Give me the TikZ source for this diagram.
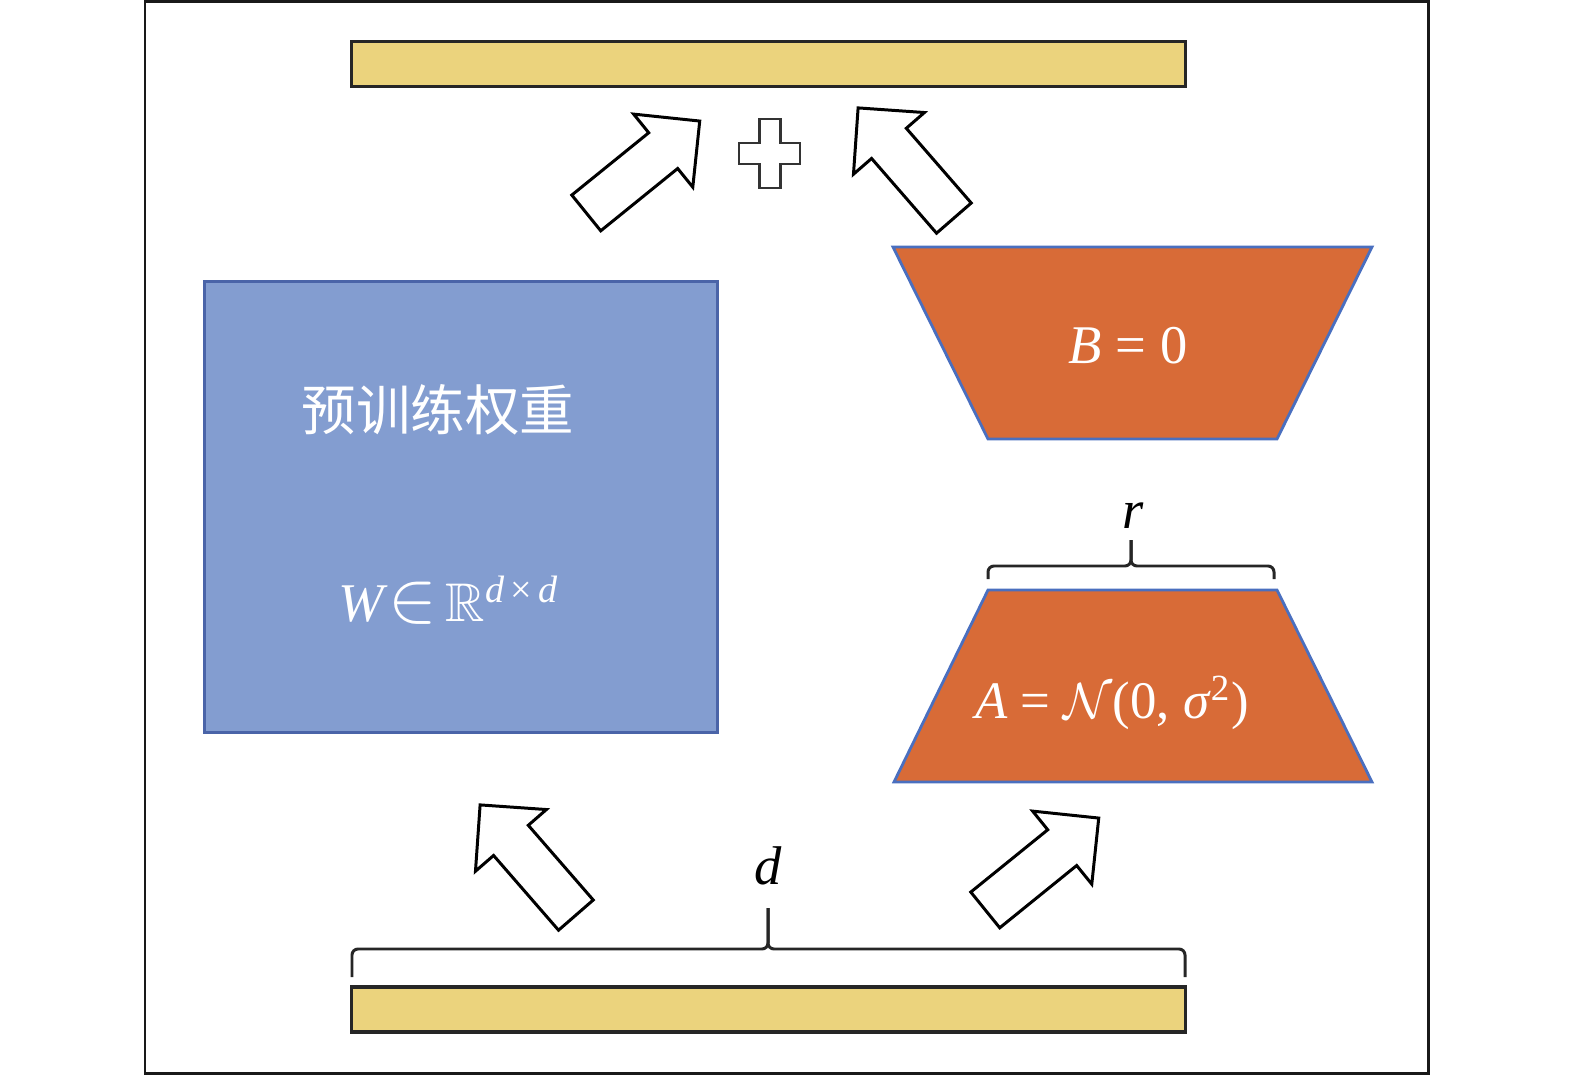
\documentclass[tikz,border=0pt]{standalone}
\usepackage{amsmath, amssymb}
\usepackage{xcolor}
\usepackage{fontspec}
\setmainfont{Liberation Serif}
\newfontfamily\cjk{Noto Sans CJK SC}
\usepackage{tikz}

\definecolor{barfill}{HTML}{EBD37D}
\definecolor{wfill}{HTML}{839DD0}
\definecolor{wedge}{HTML}{4A64A8}
\definecolor{lorafill}{HTML}{D86B37}
\definecolor{loraedge}{HTML}{4A6FBF}

\tikzset{
  bar/.style={draw=black!85, line width=0.9pt, fill=barfill, minimum width=8.33cm, minimum height=0.45cm, inner sep=0pt},
  lora/.style={draw=loraedge, line width=0.8pt, fill=lorafill},
  mathtext/.style={text=white, font=\fontsize{15.5}{18}\selectfont},
  bracket/.style={draw=black!85, line width=0.85pt, rounded corners=0.06cm},
  plusline/.style={draw=black!80, line width=0.8pt, fill=white},
  block arrow/.pic={
    \draw[black, line width=0.85pt, fill=white, line join=miter]
      (-73,-23) -- (26,-23) -- (26,-47) -- (73,0) -- (26,47) -- (26,23) -- (-73,23) -- cycle;
  }
}

\begin{document}
\begin{tikzpicture}[x=0.01cm, y=-0.01cm]
      \useasboundingbox (0,0) rectangle (1575,1076);
      \draw[line width=0.85pt, black!90] (145,1.5) rectangle (1428,1073.5);
      \node[bar] (out) at (768.5,64) {};
      \node[bar] (in) at (768.5,1009.5) {};
      \node[draw=wedge, line width=0.9pt, fill=wfill, minimum width=5.12cm, minimum height=4.5cm] (W) at (461,507) {};
      \draw[lora] (893,247) -- (1372,247) -- (1277,439) -- (988,439) -- cycle;
      \draw[lora] (988,590) -- (1277,590) -- (1372,782) -- (894,782) -- cycle;
        % Comments
      \node[text=white, font=\cjk\fontsize{15.5}{18}\selectfont] (wname) at (438,410) {预训练权重};
      \node[mathtext] (wdim) at (449,600) {\textit{W}{\fontsize{20}{20}\selectfont$\in$}\,$\mathbb{R}$\textsuperscript{\textit{d}\,×\,\textit{d}}};
      \node[mathtext] (btext) at (1128,346) {\textit{B} = 0};
      \node[mathtext, font=\fontsize{15}{18}\selectfont] (atext) at (1112,703) {\textit{A} = $\mathcal{N}$(0, \textit{σ}\textsuperscript{2})};
      \node[mathtext, text=black] (r) at (1133,516) {\textit{r}};
      \node[mathtext, text=black] (d) at (768,866) {\textit{d}};
      \draw[bracket] (988,579) -- (988,566) -- (1131,566) -- (1131,540);
      \draw[bracket] (1274,579) -- (1274,566) -- (1131,566) -- (1131,540);
      \draw[bracket] (352,977) -- (352,949) -- (768,949) -- (768,908);
      \draw[bracket] (1185,977) -- (1185,949) -- (768,949) -- (768,908);
      \pic[rotate=39] (upleft) at (643,167) {block arrow};
      \pic[rotate=131] (upright) at (906,163) {block arrow};
      \pic[rotate=131] (lowleft) at (528,860) {block arrow};
      \pic[rotate=39] (lowright) at (1042,864) {block arrow};
      \draw[plusline] (759.5,119) -- (780.5,119) -- (780.5,143) -- (800,143) -- (800,164) -- (780.5,164)
        -- (780.5,188) -- (759.5,188) -- (759.5,164) -- (739,164) -- (739,143) -- (759.5,143) -- cycle;
    \end{tikzpicture}
\end{document}
